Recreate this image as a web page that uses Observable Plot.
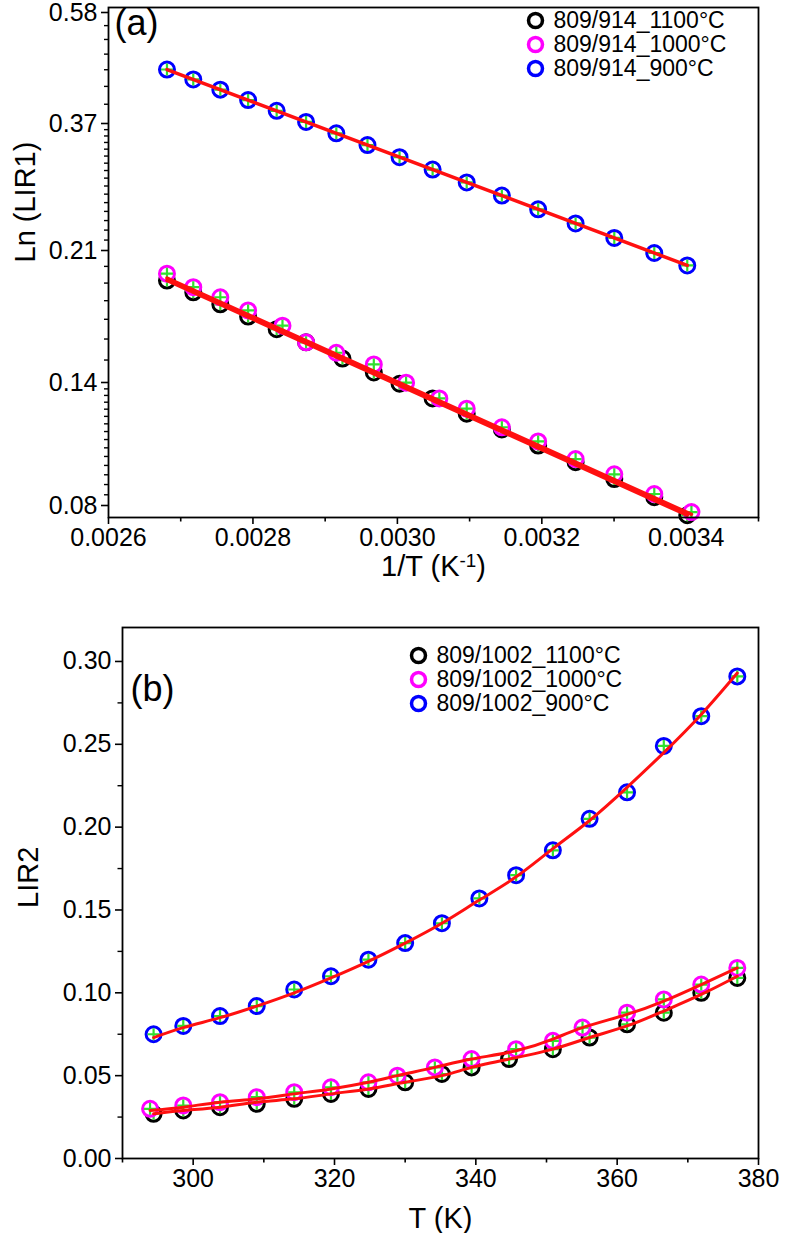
<!DOCTYPE html>
<html><head><meta charset="utf-8">
<script src="https://cdn.jsdelivr.net/npm/d3@7"></script>
<script src="https://cdn.jsdelivr.net/npm/@observablehq/plot@0.6"></script>
<style>
body{margin:0;background:#fff;}
#chart{width:807px;height:1233px;}
svg{display:block;}
</style></head><body><div id="chart"></div>
<script>
// ---------- data ----------
const seriesNamesA = ["809/914_1100°C", "809/914_1000°C", "809/914_900°C"];
const seriesNamesB = ["809/1002_1100°C", "809/1002_1000°C", "809/1002_900°C"];
const seriesColors = ["#000000", "#ff00ff", "#0000ff"];

// panel (a): temperatures (K), plotted as 1/T
const Ta_blue    = [294, 298, 303, 308, 313, 318, 323, 328, 333, 338, 343, 348, 353, 358, 363, 368, 373];
const Ta_black   = [294, 298, 303, 308, 313, 318, 323, 328, 333, 337, 342, 348, 353, 358, 363, 368, 373];
const Ta_magenta = [293.5, 298, 303, 308, 313, 318, 323, 327, 332, 337, 343, 348, 352, 358, 363, 368, 373];

// panel (a): LIR1 values (Ln axis)
const a_black   = [0.0778, 0.0831, 0.0902, 0.0974, 0.1051, 0.1131, 0.1215, 0.1302, 0.1392, 0.1444, 0.1507, 0.1584, 0.1649, 0.1714, 0.1780, 0.1847, 0.1915];
const a_magenta = [0.0785, 0.0843, 0.0922, 0.0988, 0.1071, 0.1142, 0.1243, 0.1302, 0.1399, 0.1480, 0.1534, 0.1584, 0.1667, 0.1747, 0.1819, 0.1876, 0.1956];
const a_blue    = [0.2006, 0.2084, 0.2221, 0.2369, 0.2523, 0.2683, 0.2845, 0.3013, 0.3184, 0.3361, 0.3542, 0.3724, 0.3895, 0.4069, 0.4244, 0.4423, 0.4604];
// linear fits (end points)
const a_fitT_black = [294, 373],   a_fit_black   = [0.0778, 0.1915];
const a_fitT_magenta = [293.5, 373], a_fit_magenta = [0.0780, 0.1930];
const a_fitT_blue = [294, 373],    a_fit_blue    = [0.2006, 0.4604];

// panel (b): temperatures (K)
const Tb_black   = [294.4, 298.6, 303.8, 309.0, 314.3, 319.5, 324.8, 330.0, 335.2, 339.4, 344.7, 350.9, 356.1, 361.4, 366.6, 371.9, 377.0];
const Tb_magenta = [293.9, 298.6, 303.8, 309.0, 314.3, 319.5, 324.8, 328.9, 334.2, 339.4, 345.7, 350.9, 355.1, 361.4, 366.6, 371.9, 377.0];
const Tb_blue    = [294.4, 298.6, 303.8, 309.0, 314.3, 319.5, 324.8, 330.0, 335.2, 340.5, 345.7, 350.9, 356.1, 361.4, 366.6, 371.9, 377.0];
// panel (b): LIR2 values
const b_black   = [0.027, 0.029, 0.031, 0.033, 0.036, 0.039, 0.042, 0.046, 0.051, 0.055, 0.060, 0.066, 0.073, 0.081, 0.088, 0.100, 0.109];
const b_magenta = [0.030, 0.032, 0.034, 0.037, 0.040, 0.043, 0.046, 0.050, 0.055, 0.060, 0.066, 0.071, 0.079, 0.088, 0.096, 0.105, 0.115];
const b_blue    = [0.075, 0.080, 0.086, 0.092, 0.102, 0.110, 0.120, 0.130, 0.142, 0.157, 0.171, 0.186, 0.205, 0.221, 0.249, 0.267, 0.291];
// exponential fits, read at the same temperatures
const b_fit_black   = [0.027, 0.029, 0.031, 0.034, 0.036, 0.039, 0.042, 0.046, 0.050, 0.055, 0.060, 0.066, 0.073, 0.080, 0.089, 0.099, 0.110];
const b_fit_magenta = [0.029, 0.031, 0.034, 0.036, 0.039, 0.042, 0.046, 0.050, 0.055, 0.060, 0.065, 0.072, 0.079, 0.087, 0.095, 0.105, 0.115];
const b_fit_blue    = [0.073, 0.079, 0.085, 0.092, 0.100, 0.109, 0.119, 0.130, 0.142, 0.156, 0.170, 0.187, 0.204, 0.224, 0.245, 0.268, 0.293];

// ticks
const a_xMajor = [0.0026, 0.0028, 0.0030, 0.0032, 0.0034];
const a_xMinor = [0.0027, 0.0029, 0.0031, 0.0033, 0.0035];
const a_yMajor = [0.08, 0.14, 0.21, 0.37, 0.58];
const a_yMinor = [0.084, 0.088, 0.092, 0.096, 0.100, 0.104, 0.108, 0.112, 0.116, 0.120, 0.124, 0.128, 0.132, 0.136,
                  0.15, 0.16, 0.17, 0.18, 0.19, 0.20,
                  0.22, 0.23, 0.24, 0.25, 0.26, 0.27, 0.28, 0.29, 0.30, 0.31, 0.32, 0.33, 0.34, 0.35, 0.36,
                  0.40, 0.43, 0.46, 0.49, 0.52, 0.55];
// the reference's Ln axis: tick values and where they sit (piecewise log scale)
const a_yDomain = [0.0773, 0.08, 0.14, 0.21, 0.37, 0.58, 0.5918];
const a_yRange  = [517, 505, 382, 250, 123, 12, 7];
const b_xMajor = [300, 320, 340, 360, 380];
const b_xMinor = [290, 310, 330, 350, 370];
const b_yMajor = [0.00, 0.05, 0.10, 0.15, 0.20, 0.25, 0.30];
const b_yMinor = [0.025, 0.075, 0.125, 0.175, 0.225, 0.275];

// ---------- helpers ----------
const FONT = "'Liberation Sans', Arial, sans-serif";
const zip = (Ts, vs) => Ts.map((t, i) => ({T: t, v: vs[i]}));
const thinPlus = {draw(ctx, size) { const r = Math.sqrt(size / Math.PI); ctx.moveTo(-r, 0); ctx.lineTo(r, 0); ctx.moveTo(0, -r); ctx.lineTo(0, r); }};

function seriesMarks(pts, color, xf) {
  return [
    Plot.dot(pts, {x: xf, y: "v", r: 7.5, stroke: color, strokeWidth: 3, fill: "white"}),
    Plot.dot(pts, {x: xf, y: "v", r: 6, symbol: thinPlus, stroke: "#2fe02f", strokeWidth: 2.2, fill: "none"})
  ];
}
function legendMarks(names, x0, y0, dyRow, fs) {
  const m = [];
  names.forEach((n, i) => {
    m.push(Plot.dot([0], {frameAnchor: "top-left", dx: x0, dy: y0 + i * dyRow, r: 7, stroke: seriesColors[i], strokeWidth: 3.5, fill: "white"}));
    m.push(Plot.text([n], {frameAnchor: "top-left", dx: x0 + 18, dy: y0 + i * dyRow, text: d => d, textAnchor: "start", lineAnchor: "middle", fontSize: fs, fill: "black"}));
  });
  return m;
}

// ---------- panel (a) ----------
const invT = d => 1 / d.T;
const ptsA = [zip(Ta_black, a_black), zip(Ta_magenta, a_magenta), zip(Ta_blue, a_blue)];
const fitsA = [zip(a_fitT_black, a_fit_black), zip(a_fitT_magenta, a_fit_magenta), zip(a_fitT_blue, a_fit_blue)];

const plotA = Plot.plot({
  width: 807, height: 600,
  marginTop: 7, marginBottom: 83, marginLeft: 108, marginRight: 49,
  style: {fontFamily: FONT, color: "black", background: "white"},
  x: {domain: [0.0026, 0.0035], label: null},
  y: {type: "log", domain: a_yDomain, range: a_yRange, label: null},
  marks: [
    Plot.axisX({ticks: a_xMajor, tickSize: 7, tickPadding: 4, strokeWidth: 1.6, fontSize: 25, tickFormat: d3.format(".4f"), label: null}),
    Plot.axisX({ticks: a_xMinor, tickSize: 4.5, strokeWidth: 1.6, tickFormat: () => "", label: null}),
    Plot.axisY({ticks: a_yMajor, tickSize: 7, tickPadding: 4, strokeWidth: 1.6, fontSize: 25, tickFormat: d3.format(".2f"), label: null}),
    Plot.axisY({ticks: a_yMinor, tickSize: 4, strokeWidth: 1.4, tickFormat: () => "", label: null}),
    ...seriesMarks(ptsA[0], seriesColors[0], invT),
    ...seriesMarks(ptsA[1], seriesColors[1], invT),
    ...seriesMarks(ptsA[2], seriesColors[2], invT),
    Plot.line(fitsA[0], {x: invT, y: "v", stroke: "#ff1010", strokeWidth: 3.5}),
    Plot.line(fitsA[1], {x: invT, y: "v", stroke: "#ff1010", strokeWidth: 3.5}),
    Plot.line(fitsA[2], {x: invT, y: "v", stroke: "#ff1010", strokeWidth: 3.5}),
    Plot.frame({stroke: "black", strokeWidth: 1.8}),
    Plot.text(["(a)"], {frameAnchor: "top-left", dx: 6, dy: 16, text: d => d, fontSize: 36, textAnchor: "start", lineAnchor: "middle", fill: "black"}),
    ...legendMarks(seriesNamesA, 427, 13, 24, 23),
    Plot.text(["XTITLE_A"], {frameAnchor: "bottom", dy: 49, text: d => d, fontSize: 29, lineAnchor: "middle", fill: "black"}),
    Plot.text(["Ln (LIR1)"], {frameAnchor: "left", dx: -83, text: d => d, fontSize: 29, rotate: -90, lineAnchor: "middle", fill: "black"})
  ]
});

// ---------- panel (b) ----------
const ptsB = [zip(Tb_black, b_black), zip(Tb_magenta, b_magenta), zip(Tb_blue, b_blue)];
const fitsB = [zip(Tb_black, b_fit_black), zip(Tb_magenta, b_fit_magenta), zip(Tb_blue, b_fit_blue)];

const plotB = Plot.plot({
  width: 807, height: 633,
  marginTop: 27, marginBottom: 75, marginLeft: 122, marginRight: 49,
  style: {fontFamily: FONT, color: "black", background: "white"},
  x: {domain: [290, 380], label: null},
  y: {domain: [0, 0.3205], label: null},
  marks: [
    Plot.axisX({ticks: b_xMajor, tickSize: 7, tickPadding: 4, strokeWidth: 1.6, fontSize: 25, label: null}),
    Plot.axisX({ticks: b_xMinor, tickSize: 4.5, strokeWidth: 1.6, tickFormat: () => "", label: null}),
    Plot.axisY({ticks: b_yMajor, tickSize: 7, tickPadding: 4, strokeWidth: 1.6, fontSize: 25, tickFormat: d3.format(".2f"), label: null}),
    Plot.axisY({ticks: b_yMinor, tickSize: 4.5, strokeWidth: 1.4, tickFormat: () => "", label: null}),
    ...seriesMarks(ptsB[0], seriesColors[0], "T"),
    ...seriesMarks(ptsB[1], seriesColors[1], "T"),
    ...seriesMarks(ptsB[2], seriesColors[2], "T"),
    Plot.line(fitsB[0], {x: "T", y: "v", stroke: "#ff1010", strokeWidth: 3, curve: "natural"}),
    Plot.line(fitsB[1], {x: "T", y: "v", stroke: "#ff1010", strokeWidth: 3, curve: "natural"}),
    Plot.line(fitsB[2], {x: "T", y: "v", stroke: "#ff1010", strokeWidth: 3, curve: "natural"}),
    Plot.frame({stroke: "black", strokeWidth: 1.8}),
    Plot.text(["(b)"], {frameAnchor: "top-left", dx: 8, dy: 62, text: d => d, fontSize: 36, textAnchor: "start", lineAnchor: "middle", fill: "black"}),
    ...legendMarks(seriesNamesB, 296, 28, 24, 23),
    Plot.text(["T (K)"], {frameAnchor: "bottom", dy: 60, text: d => d, fontSize: 29, lineAnchor: "middle", fill: "black"}),
    Plot.text(["LIR2"], {frameAnchor: "left", dx: -94, dy: 15, text: d => d, fontSize: 29, rotate: -90, lineAnchor: "middle", fill: "black"})
  ]
});

const root = document.getElementById("chart");
root.appendChild(plotA);
root.appendChild(plotB);

// superscript in x title of panel (a)
d3.select(plotA).selectAll("text").filter(function() { return this.textContent === "XTITLE_A"; }).each(function() {
  const t = d3.select(this);
  t.text(null);
  t.append("tspan").text("1/T (K");
  t.append("tspan").attr("dy", "-0.45em").attr("font-size", "0.65em").text("-1");
  t.append("tspan").attr("dy", "0.3em").text(")");
});
</script>
</body></html>
